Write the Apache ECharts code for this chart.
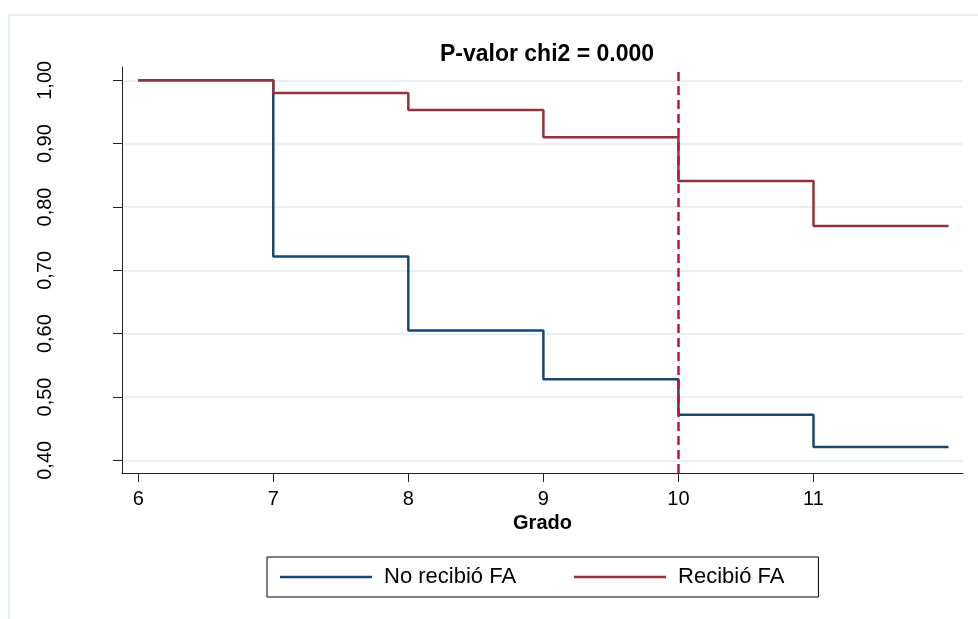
<!DOCTYPE html>
<html>
<head>
<meta charset="utf-8">
<script src="https://cdn.jsdelivr.net/npm/echarts@6/dist/echarts.min.js"></script>
<style>
html,body{margin:0;padding:0;background:#fff;}
#chart{width:978px;height:619px;}
</style>
</head>
<body>
<div id="chart"></div>
<script>
// Data
const grados = [6, 7, 8, 9, 10, 11, 12];
const noRecibioFA = [1.000, 0.722, 0.605, 0.528, 0.472, 0.421, 0.421];
const recibioFA = [1.000, 0.980, 0.953, 0.910, 0.841, 0.770, 0.770];
const xTicks = [6, 7, 8, 9, 10, 11];
const yTicks = [0.4, 0.5, 0.6, 0.7, 0.8, 0.9, 1.0];
const cutoff = 10;
const seriesNames = ['No recibió FA', 'Recibió FA'];
const titleText = 'P-valor chi2 = 0.000';
const xName = 'Grado';

const FONT = 'Liberation Sans, Arial, Helvetica, sans-serif';
const pair = (xs, ys) => xs.map((x, i) => [x, ys[i]]);

const chart = echarts.init(document.getElementById('chart'), null, {renderer: 'canvas'});
chart.setOption({
  animation: false,
  backgroundColor: '#ffffff',
  graphic: [{
    type: 'rect', left: 8, top: 14, silent: true, z: -10,
    shape: {width: 990, height: 620},
    style: {fill: '#ffffff', stroke: '#e8eff1', lineWidth: 2}
  }],
  title: {
    text: titleText, left: 542, top: 38, textAlign: 'center',
    textStyle: {fontFamily: FONT, fontSize: 23, fontWeight: 'bold', color: '#000'}
  },
  grid: {left: 122, right: 15, top: 67, bottom: 146, containLabel: false},
  legend: {
    data: seriesNames.map(n => ({name: n, icon: 'rect'})),
    left: 267, top: 557,
    padding: [9, 34, 9, 13],
    itemWidth: 92, itemHeight: 2.5, itemGap: 58,
    borderColor: '#000', borderWidth: 1, backgroundColor: '#fff',
    textStyle: {fontFamily: FONT, fontSize: 22, color: '#000', padding: [0, 0, 0, 7]}
  },
  xAxis: {
    type: 'value', min: 5.88, max: 12.107,
    name: xName, nameLocation: 'middle', nameGap: 40,
    nameTextStyle: {fontFamily: FONT, fontSize: 20, fontWeight: 'bold', color: '#000'},
    axisLine: {show: true, onZero: false, lineStyle: {color: '#222', width: 1}},
    axisTick: {show: true, length: 9, customValues: xTicks, lineStyle: {color: '#222'}},
    axisLabel: {customValues: xTicks, margin: 16, fontFamily: FONT, fontSize: 20, color: '#000'},
    splitLine: {show: false}
  },
  yAxis: {
    type: 'value', min: 0.38, max: 1.021,
    axisLine: {show: true, onZero: false, lineStyle: {color: '#222', width: 1}},
    axisTick: {show: true, length: 9, customValues: yTicks, lineStyle: {color: '#222'}},
    axisLabel: {
      customValues: yTicks, rotate: 90, margin: 67,
      fontFamily: FONT, fontSize: 20, color: '#000',
      formatter: v => v.toFixed(2).replace('.', ',')
    },
    splitLine: {show: true, lineStyle: {color: '#e8f0f3', width: 2}}
  },
  series: [
    {
      type: 'line', name: 'cutoff', data: [], silent: true, z: 1,
      markLine: {
        silent: true, symbol: ['none', 'none'], label: {show: false},
        lineStyle: {color: '#c8103c', width: 2.5, type: [9, 5]},
        data: [{xAxis: cutoff}]
      }
    },
    {
      type: 'line', name: seriesNames[0], step: 'end', symbol: 'none', z: 2,
      data: pair(grados, noRecibioFA),
      lineStyle: {color: '#1a476f', width: 2.5},
      itemStyle: {color: '#1a476f'}
    },
    {
      type: 'line', name: seriesNames[1], step: 'end', symbol: 'none', z: 3,
      data: pair(grados, recibioFA),
      lineStyle: {color: '#90353b', width: 2.5},
      itemStyle: {color: '#90353b'}
    }
  ]
});
</script>
</body>
</html>
